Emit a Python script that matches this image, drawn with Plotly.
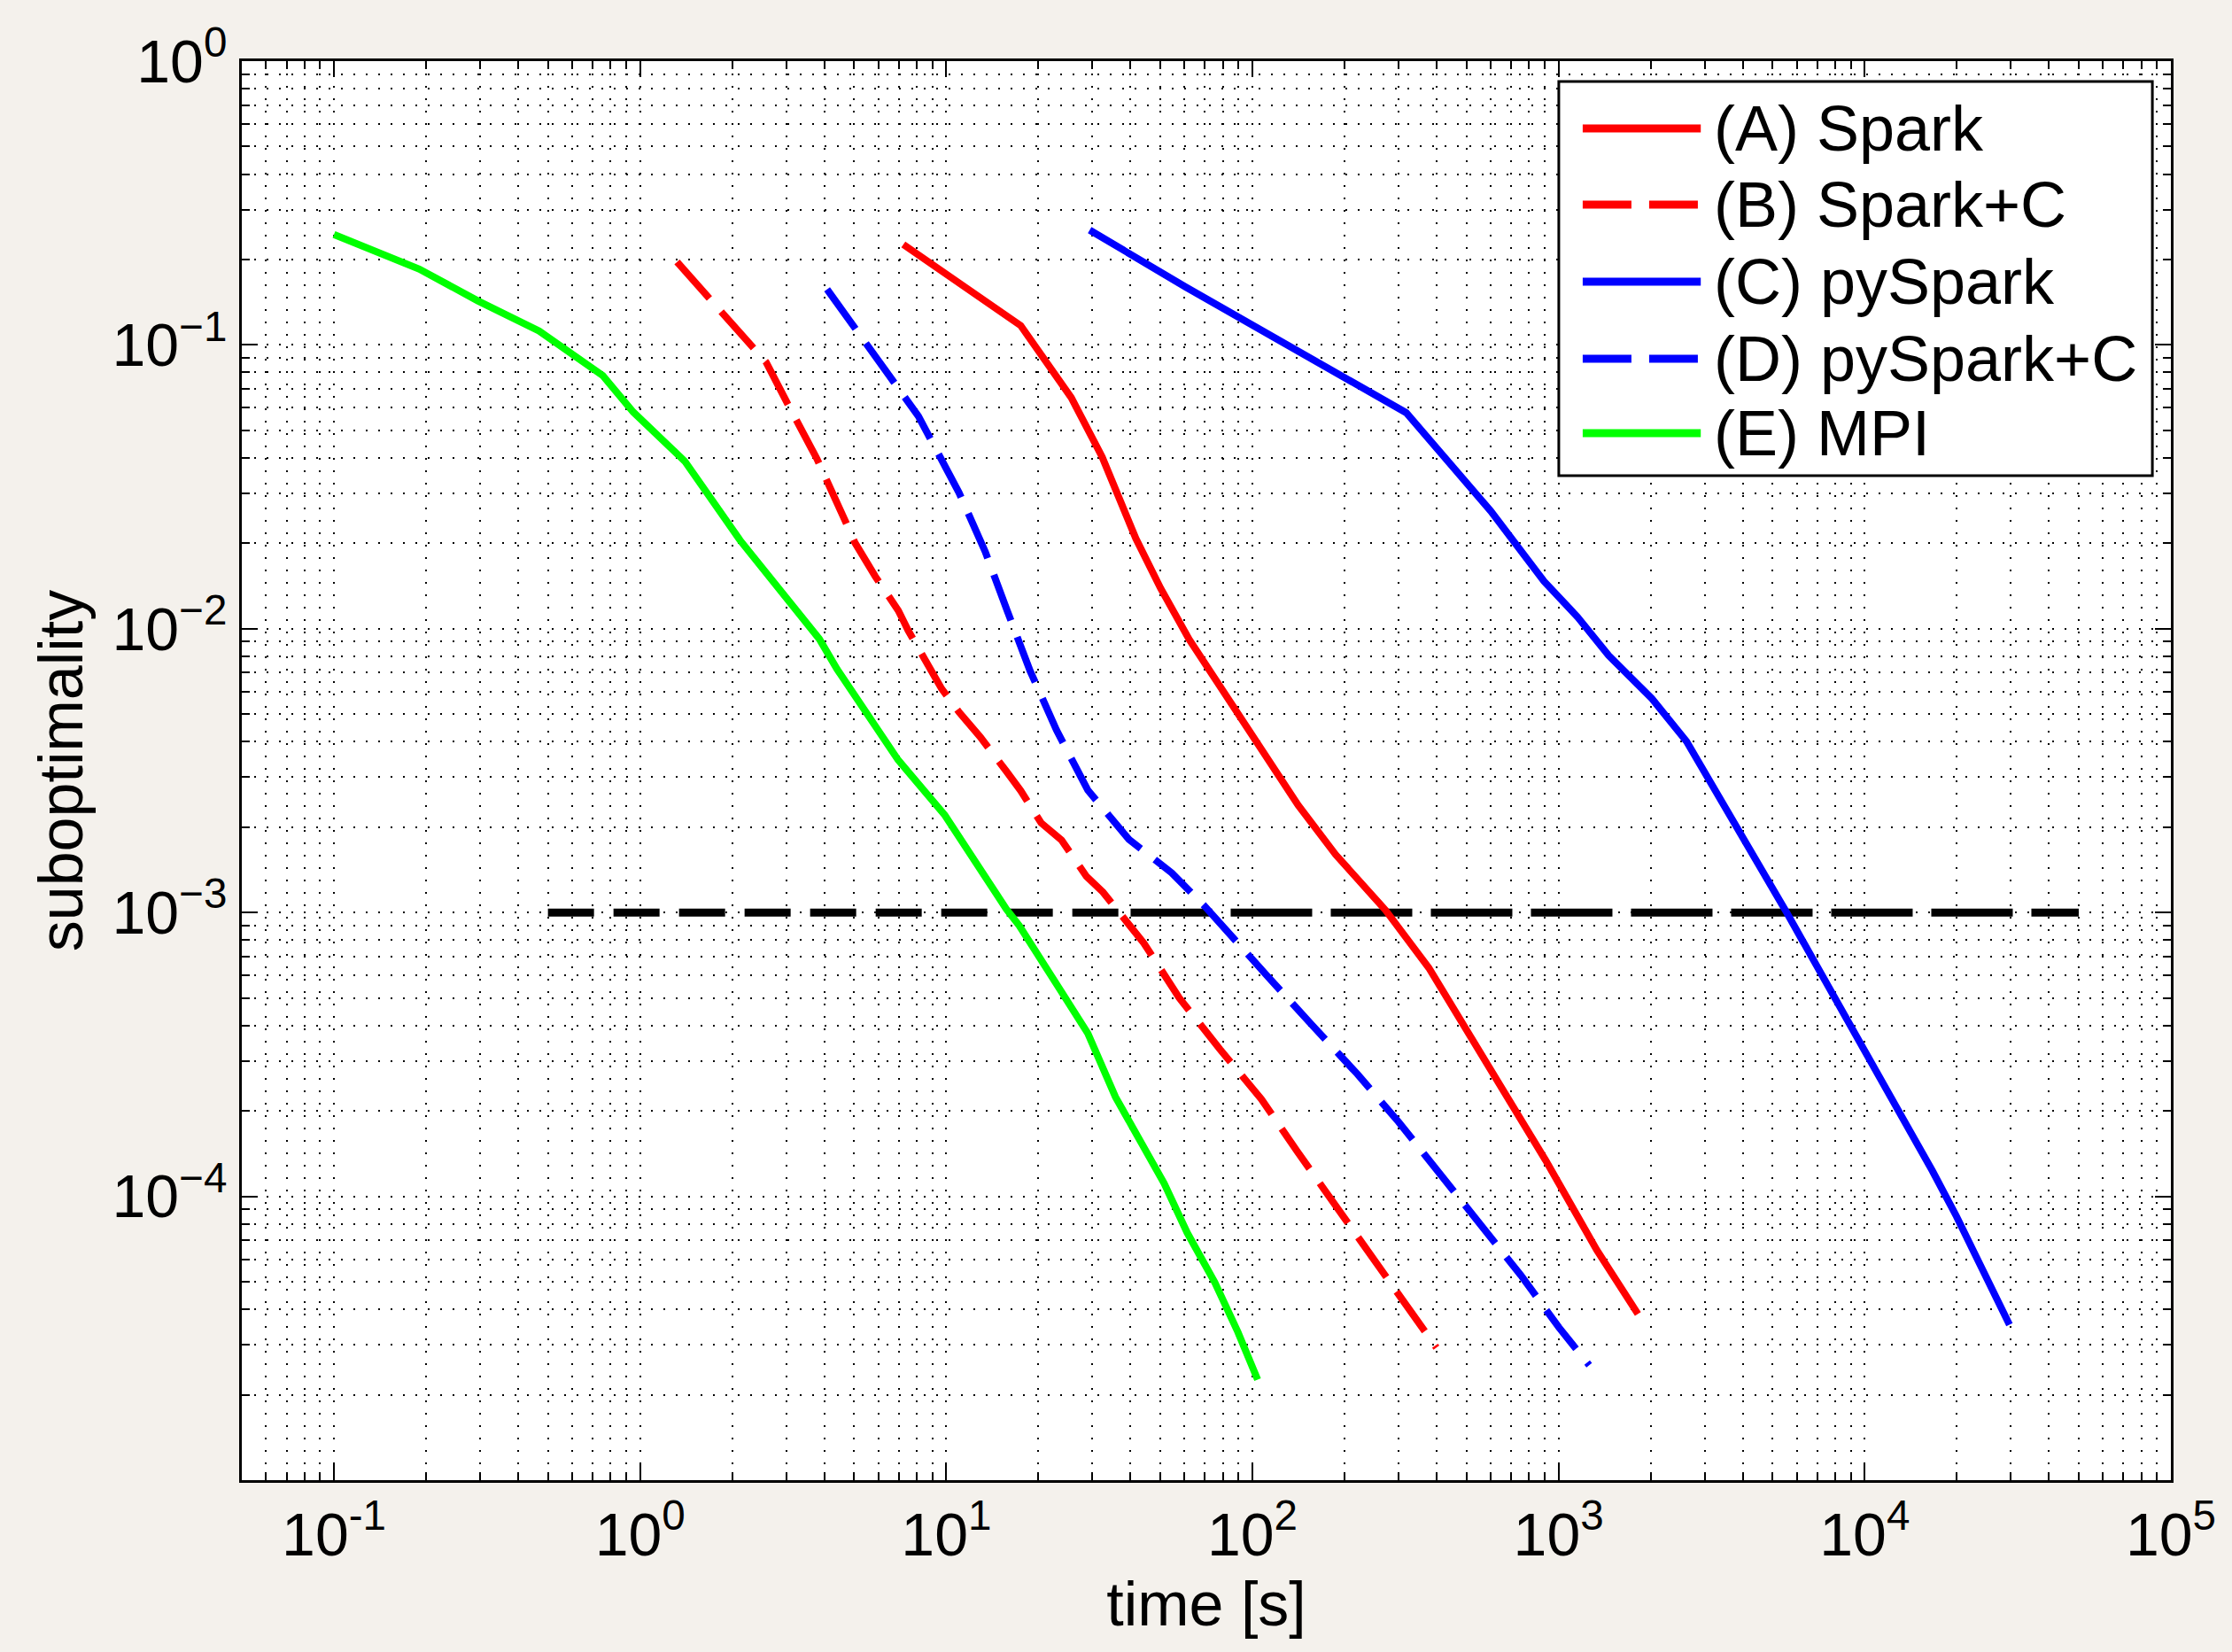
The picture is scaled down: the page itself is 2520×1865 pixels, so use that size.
import math
import plotly.graph_objects as go

# ---------------- data ----------------
series_names = ["(A) Spark", "(B) Spark+C", "(C) pySpark", "(D) pySpark+C", "(E) MPI"]

spark_x = [7.24, 17.5, 25.6, 32.3, 41.6, 50.1, 62.1, 72.9, 96.5, 141, 187, 272, 377, 573, 907, 1334, 1816]
spark_y = [0.226, 0.117, 0.0652, 0.0403, 0.0208, 0.0139, 0.00918, 0.00709, 0.00448, 0.00239, 0.0016,
           0.00102, 0.000638, 0.0003, 0.000134, 6.46e-5, 3.85e-5]

sparkc_x = [1.32, 2.29, 2.58, 3.01, 3.78, 4.66, 5.03, 5.86, 6.97, 7.51, 9.66, 11.0, 12.9, 15.7, 17.5, 20.4,
            23.8, 28.7, 32.5, 44.2, 51.4, 57.7, 78.3, 107, 140, 189, 247, 330, 399]
sparkc_y = [0.196, 0.0989, 0.0869, 0.063, 0.0397, 0.0242, 0.0201, 0.0153, 0.0116, 0.00986, 0.00614, 0.00509,
            0.00416, 0.00315, 0.00269, 0.00207, 0.0018, 0.00134, 0.00118, 0.00078, 0.000602, 0.0005, 0.00033,
            0.00022, 0.000144, 9.1e-5, 6.0e-5, 3.84e-5, 2.93e-5]

pyspark_x = [29.4, 60.5, 318, 600, 896, 1153, 1456, 2018, 2618, 3395, 5530, 16630, 19940, 29700]
pyspark_y = [0.254, 0.16, 0.0577, 0.026, 0.0147, 0.011, 0.00806, 0.00567, 0.00401, 0.0025, 0.00101,
             0.000123, 8.5e-5, 3.53e-5]

pysparkc_x = [4.08, 6.56, 8.11, 11.0, 13.4, 15.8, 18.8, 22.9, 29.0, 39.5, 54.5, 70.0, 91.4, 111, 156, 220,
              300, 407, 553, 753, 1003, 1259]
pysparkc_y = [0.157, 0.0769, 0.0561, 0.0302, 0.0187, 0.0116, 0.00709, 0.0044, 0.0027, 0.00181, 0.00138,
              0.00105, 0.000753, 0.000603, 0.000403, 0.00027, 0.000183, 0.000122, 8.0e-5, 5.27e-5,
              3.45e-5, 2.54e-5]

mpi_x = [0.1, 0.19, 0.295, 0.468, 0.755, 0.95, 1.4, 1.63, 2.12, 3.85, 4.4, 6.96, 9.9, 15.7, 17.3, 23.4,
         29.0, 35.7, 51.5, 61.2, 75.3, 89.6, 104]
mpi_y = [0.245, 0.185, 0.143, 0.112, 0.078, 0.058, 0.0389, 0.0307, 0.0205, 0.0092, 0.0072, 0.00345, 0.0022,
         0.00103, 0.0009, 0.00054, 0.000375, 0.000224, 0.000111, 7.45e-5, 4.98e-5, 3.33e-5, 2.26e-5]

threshold_y = 1e-3
threshold_x_left = [0.5, 40]
threshold_x_right = [40, 5e4]

x_tick_exps = [-1, 0, 1, 2, 3, 4, 5]
y_tick_exps = [-4, -3, -2, -1, 0]
x_title = "time [s]"
y_title = "suboptimality"

# ---------------- styling ----------------
FONT = "Liberation Sans, Arial, Helvetica, sans-serif"
RED, BLUE, GREEN = "#ff0000", "#0000ff", "#00ff00"
LW = 8
DASH = "55px,20px"

series = [
    (spark_x, spark_y, RED, "solid"),
    (sparkc_x, sparkc_y, RED, DASH),
    (pyspark_x, pyspark_y, BLUE, "solid"),
    (pysparkc_x, pysparkc_y, BLUE, DASH),
    (mpi_x, mpi_y, GREEN, "solid"),
]

fig = go.Figure()
fig.add_trace(go.Scatter(x=threshold_x_left, y=[threshold_y] * 2, mode="lines",
                         line=dict(color="black", width=9, dash="52px,22px"), showlegend=False))
fig.add_trace(go.Scatter(x=threshold_x_right, y=[threshold_y] * 2, mode="lines",
                         line=dict(color="black", width=9, dash="92px,21px"), showlegend=False))
for (xs, ys, col, dash), name in zip(series, series_names):
    fig.add_trace(go.Scatter(x=xs, y=ys, mode="lines", name=name,
                             line=dict(color=col, width=LW, dash=dash), showlegend=False))

xmin, xmax = 0.05, 1e5
x_minor = [k * 10 ** d for d in range(-2, 5) for k in range(2, 10) if xmin <= k * 10 ** d <= xmax]
y_minor = [k * 10 ** d for d in range(-5, 0) for k in range(2, 10)]

grid_common = dict(showgrid=True, gridcolor="black", gridwidth=2, griddash="2px,12px")
axis_common = dict(type="log", ticks="inside", tickcolor="black", tickwidth=2, ticklen=18,
                   showline=True, linecolor="black", linewidth=3, mirror="ticks",
                   tickfont=dict(family=FONT, size=68, color="black"), automargin=False,
                   **grid_common)

fig.update_xaxes(range=[math.log10(xmin), 5],
                 tickmode="array",
                 tickvals=[10.0 ** e for e in x_tick_exps],
                 ticktext=[f"10<sup>{e}</sup>" for e in x_tick_exps],
                 minor=dict(tickvals=x_minor, ticks="inside", ticklen=9, tickwidth=2, tickcolor="black",
                            **grid_common),
                 title=dict(text=x_title, font=dict(family=FONT, size=70, color="black"), standoff=18),
                 **axis_common)
fig.update_yaxes(range=[-5, 0],
                 tickmode="array",
                 tickvals=[10.0 ** e for e in y_tick_exps],
                 ticktext=[f"10<sup>{str(e).replace('-', '−')}</sup>" for e in y_tick_exps],
                 minor=dict(tickvals=y_minor, ticks="inside", ticklen=9, tickwidth=2, tickcolor="black",
                            **grid_common),
                 title=dict(text=y_title, font=dict(family=FONT, size=70, color="black"), standoff=10),
                 **axis_common)

# ---------------- legend (drawn in paper coordinates) ----------------
leg_x0, leg_x1, leg_y0, leg_y1 = 0.6827, 0.9904, 0.7079, 0.9856
row_y = [0.9526, 0.8989, 0.8446, 0.7903, 0.7378]
shapes = [dict(type="rect", xref="paper", yref="paper", x0=leg_x0, x1=leg_x1, y0=leg_y0, y1=leg_y1,
               fillcolor="white", line=dict(color="black", width=3), layer="above")]
annotations = []
for (xs, ys, col, dash), name, ry in zip(series, series_names, row_y):
    shapes.append(dict(type="line", xref="paper", yref="paper", x0=0.6951, x1=0.7563, y0=ry, y1=ry,
                       line=dict(color=col, width=9, dash=dash), layer="above"))
    annotations.append(dict(xref="paper", yref="paper", x=0.7622, y=ry, text=name, showarrow=False,
                            xanchor="left", yanchor="middle",
                            font=dict(family=FONT, size=72, color="black")))

fig.update_layout(width=2520, height=1865, template="none",
                  paper_bgcolor="#f4f1ec", plot_bgcolor="white",
                  margin=dict(l=273, r=69, t=69, b=194),
                  showlegend=False, shapes=shapes, annotations=annotations,
                  font=dict(family=FONT, color="black"))

fig.write_html("out.html", config={"displayModeBar": False},
               post_script="document.body.style.margin='0px';")
